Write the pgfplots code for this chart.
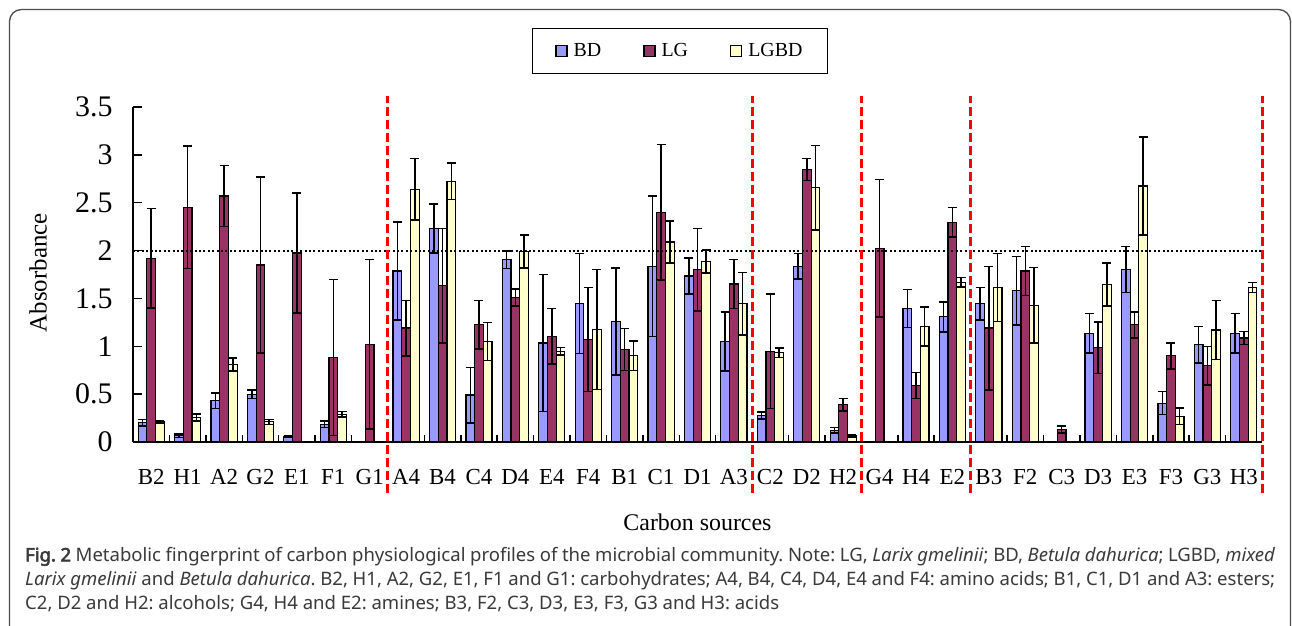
\documentclass[border=0pt]{standalone}
\usepackage{pgfplots}
\pgfplotsset{compat=1.18}
\usepackage{pgfplotstable}
\usepackage{fontspec}
\setmainfont{Liberation Serif}
\newfontfamily\capfont{Noto Sans}
\newfontfamily\capbold[FakeBold=3]{Noto Sans}

\definecolor{bdcol}{HTML}{9999FF}
\definecolor{lgcol}{HTML}{993366}
\definecolor{lgbdcol}{HTML}{FFFFCC}
\definecolor{capgray}{HTML}{3A3A3A}

\pgfplotstableread{
x bd bde lg lge lgbd lgbde
0 0.20 0.035 1.92 0.52 0.21 0.012
1 0.065 0.02 2.45 0.64 0.255 0.035
2 0.43 0.08 2.57 0.32 0.81 0.07
3 0.50 0.045 1.85 0.92 0.21 0.025
4 0.06 0.01 1.975 0.625 0 0
5 0.185 0.035 0.885 0.815 0.29 0.03
6 0 0 1.02 0.885 0 0
7 1.787 0.51 1.19 0.29 2.64 0.32
8 2.23 0.255 1.633 0.60 2.724 0.19
9 0.49 0.29 1.224 0.255 1.05 0.20
10 1.905 0.09 1.51 0.09 1.99 0.17
11 1.035 0.715 1.105 0.29 0.948 0.04
12 1.447 0.52 1.07 0.545 1.175 0.625
13 1.26 0.56 0.965 0.22 0.90 0.155
14 1.836 0.735 2.40 0.71 2.09 0.22
15 1.734 0.19 1.80 0.43 1.888 0.12
16 1.05 0.31 1.65 0.255 1.444 0.325
17 0.276 0.035 0.948 0.60 0.934 0.05
18 1.836 0.135 2.846 0.115 2.657 0.44
19 0.122 0.03 0.388 0.065 0.063 0.01
20 0 0 2.024 0.716 0 0
21 1.395 0.20 0.59 0.137 1.206 0.205
22 1.307 0.157 2.297 0.153 1.668 0.05
23 1.444 0.17 1.19 0.645 1.615 0.355
24 1.58 0.36 1.787 0.255 1.427 0.395
25 0 0 0.13 0.035 0 0
26 1.136 0.207 0.986 0.27 1.647 0.225
27 1.804 0.24 1.224 0.136 2.675 0.51
28 0.405 0.12 0.90 0.135 0.27 0.085
29 1.017 0.19 0.797 0.20 1.17 0.31
30 1.136 0.207 1.087 0.067 1.615 0.052
}\datatable

\begin{document}
\begin{tikzpicture}[x=1bp,y=1bp]
\useasboundingbox (0,0) rectangle (1292,626);
\fill[white] (0,0) rectangle (1292,626);
\draw[line width=1.3bp, black!70, rounded corners=12bp] (9.5,0) -- (9.5,616.5) -- (1290.5,616.5) -- (1290.5,0);
\begin{axis}[
  at={(133bp,184bp)}, anchor=south west,
  scale only axis, width=1129bp, height=335bp,
  xmin=-0.5, xmax=30.5, ymin=0, ymax=3.5,
  clip=false,
  axis x line=bottom, axis y line=left,
  axis line style={-, line width=1.5bp, black},
  ybar=0pt, bar width=8.7bp,
  xtick={0,...,30},
  xticklabels={B2,H1,A2,G2,E1,F1,G1,A4,B4,C4,D4,E4,F4,B1,C1,D1,A3,C2,D2,H2,G4,H4,E2,B3,F2,C3,D3,E3,F3,G3,H3},
  major x tick style={draw=none},
  minor xtick={0.5,1.5,...,29.5},
  minor x tick style={line width=1.5bp, black},
  minor tick length=7bp,
  ytick={0,0.5,1,1.5,2,2.5,3,3.5},
  yticklabels={0,0.5,1,1.5,2,2.5,3,3.5},
  major y tick style={line width=1.5bp, black},
  major tick length=9bp,
  tick align=inside,
  /pgf/number format/assume math mode=true,
  yticklabel style={font=\fontsize{30}{32}\selectfont, xshift=-17bp},
  xticklabel style={font=\fontsize{23}{25}\selectfont, yshift=-24bp},
  ylabel={Absorbance},
  ylabel style={font=\fontsize{25}{28}\selectfont, at={(axis description cs:-0.0841,0.505)}, anchor=center},
  xlabel={Carbon sources},
  xlabel style={font=\fontsize{24}{28}\selectfont, at={(axis description cs:0.5,-0.239)}, anchor=center},
  legend columns=3,
  legend style={at={(axis description cs:0.4845,1.167)}, anchor=center, draw=black, line width=1.2bp,
    font=\fontsize{20}{24}\selectfont, inner xsep=23bp, inner ysep=13bp,
    /tikz/every odd column/.append style={column sep=4bp},
    /tikz/every even column/.append style={column sep=40bp}},
  legend image code/.code={\draw[#1, line width=1.2bp] (0bp,-5.5bp) rectangle (11bp,5.5bp);},
  error bars/error bar style={line width=1.5bp, black},
  error bars/error mark options={line width=1.5bp, black, mark size=4.5bp, rotate=90},
]
\addplot[fill=bdcol, draw=black, line width=1.2bp,
  error bars/.cd, y dir=both, y explicit]
  table[x=x, y=bd, y error=bde] {\datatable};
\addplot[fill=lgcol, draw=black, line width=1.2bp,
  error bars/.cd, y dir=both, y explicit]
  table[x=x, y=lg, y error=lge] {\datatable};
\addplot[fill=lgbdcol, draw=black, line width=1.2bp,
  error bars/.cd, y dir=both, y explicit]
  table[x=x, y=lgbd, y error=lgbde] {\datatable};
\legend{BD,LG,LGBD}
\draw[black, line width=2bp, dash pattern=on 2bp off 2.4bp] (axis cs:-0.5,2) -- (axis cs:30.5,2);
\pgfplotsinvokeforeach{6.5,16.5,19.5,22.5,30.5}{
  \draw[red, line width=3bp, dash pattern=on 9bp off 4bp] (axis cs:#1,-0.53) -- (axis cs:#1,3.62);
}
\end{axis}
\node[anchor=north west, inner sep=0pt, text width=1250bp, align=justify,
  font=\capfont\fontsize{18.6}{24}\selectfont\frenchspacing, text=capgray] at (25,79)
{{\capbold Fig.~2} Metabolic fingerprint of carbon physiological profiles of the microbial community. Note: LG, \textit{Larix gmelinii}; BD, \textit{Betula dahurica}; LGBD, \textit{mixed}\linebreak
\textit{Larix gmelinii} and \textit{Betula dahurica}. B2, H1, A2, G2, E1, F1 and G1: carbohydrates; A4, B4, C4, D4, E4 and F4: amino acids; B1, C1, D1 and A3: esters;\linebreak
C2, D2 and H2: alcohols; G4, H4 and E2: amines; B3, F2, C3, D3, E3, F3, G3 and H3: acids\par};
\end{tikzpicture}
\end{document}
